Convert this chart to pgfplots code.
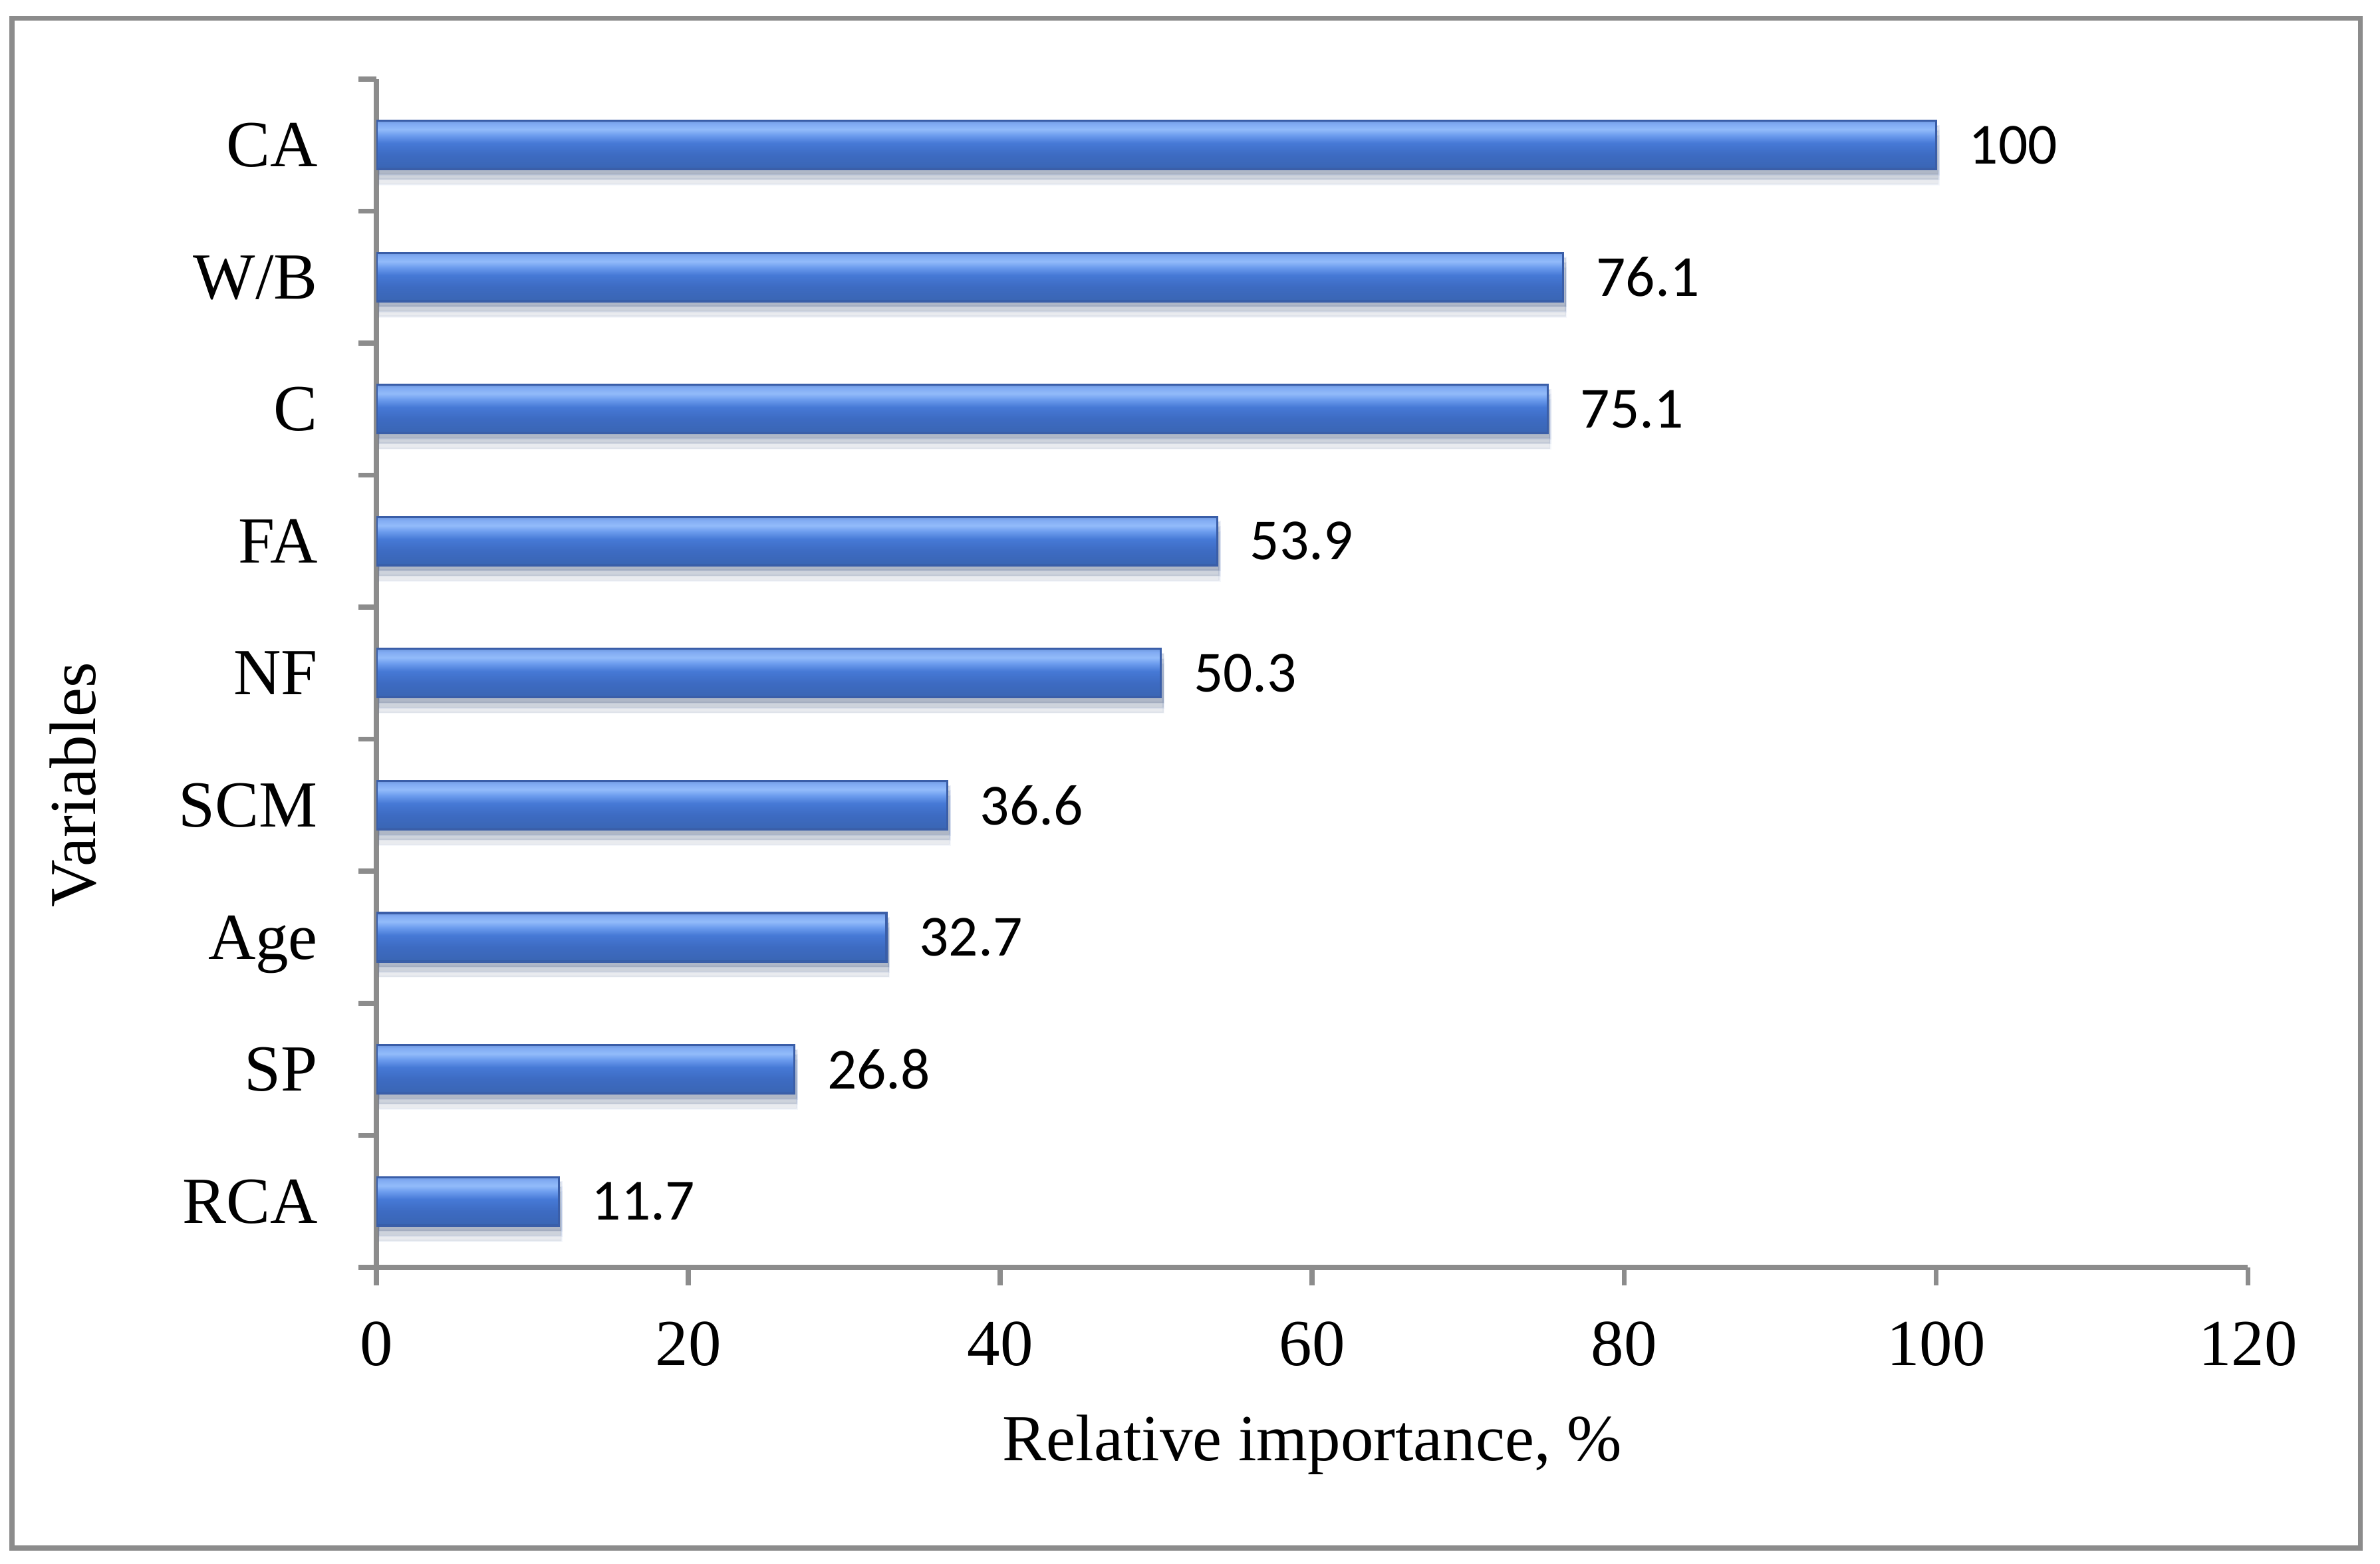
\documentclass[border=0pt]{standalone}
\usepackage{fontspec}
\setmainfont{Liberation Serif}
\newfontfamily\carlito{Carlito}
\usepackage{pgfplots}
\pgfplotsset{compat=1.18}
\usetikzlibrary{shadows}

\definecolor{axisgray}{HTML}{8C8C8C}
\definecolor{barEdge}{HTML}{3A5EA8}
\definecolor{bA}{HTML}{2B4B86}
\definecolor{bB}{HTML}{3A66B5}
\definecolor{bC}{HTML}{3D6BC2}
\definecolor{bD}{HTML}{4679D6}
\definecolor{bE}{HTML}{6C9CEE}
\definecolor{bF}{HTML}{92BBFA}
\definecolor{bG}{HTML}{80AAF2}
\definecolor{bH}{HTML}{6F98DE}
\pgfdeclareverticalshading{barshade}{100bp}{color(0bp)=(bA); color(25bp)=(bA); color(27bp)=(bB); color(40bp)=(bC); color(52bp)=(bD); color(60bp)=(bE); color(66bp)=(bF); color(72bp)=(bG); color(75bp)=(bH); color(100bp)=(bH)}

\pgfplotsset{
  mybar/.style={bar shift=0pt, shading=barshade, draw=barEdge, line width=0.4pt,
    general shadow={shadow xshift=0.5pt, shadow yshift=-3pt, fill=black, opacity=0.05},
    general shadow={shadow xshift=0.5pt, shadow yshift=-2pt, fill=black, opacity=0.07},
    general shadow={shadow xshift=0.5pt, shadow yshift=-1pt, fill=black, opacity=0.09}},
}

\begin{document}
\begin{tikzpicture}
\useasboundingbox (-74.4pt,-58.5pt) rectangle (396pt,250.5pt);
\draw[axisgray, line width=1pt] (-72pt,-55.5pt) rectangle (392.1pt,246.9pt);
\begin{axis}[
  at={(0pt,0pt)}, anchor=south west,
  scale only axis, width=369.9pt, height=234.9pt,
  xbar, bar width=9.6pt,
  xmin=0, xmax=120, ymin=0.5, ymax=9.5,
  axis lines*=left,
  axis line style={draw=axisgray, line width=1pt, -},
  xtick={0,20,...,120},
  ytick={1,...,9},
  yticklabels={RCA,SP,Age,SCM,NF,FA,C,W/B,CA},
  minor ytick={0.5,1.5,...,9.5},
  tick align=outside,
  major tick length=3.6pt, minor tick length=3.6pt,
  major x tick style={draw=axisgray, line width=1pt},
  minor y tick style={draw=axisgray, line width=1pt},
  major y tick style={draw=none},
  ticklabel style={font=\fontsize{13}{15}\selectfont},
  xticklabel style={anchor=north, inner sep=0pt, yshift=-6.9pt},
  yticklabel style={anchor=east, inner sep=0pt, text depth=0pt, xshift=-7.8pt},
  /pgf/number format/assume math mode=true,
  xlabel={Relative importance, \%},
  ylabel={Variables},
  label style={font=\fontsize{13}{15}\selectfont},
  xlabel style={at={(axis description cs:0.5,0)}, anchor=center, yshift=-35pt},
  ylabel style={at={(axis description cs:-0.1622,0.406)}, anchor=center},
  nodes near coords,
  every node near coord/.append style={font=\carlito\fontsize{11.5}{13}\selectfont, black, anchor=west, inner sep=0pt, xshift=6.3pt},
]
\addplot[mybar] coordinates {(11.7,1)};
\addplot[mybar] coordinates {(26.8,2)};
\addplot[mybar] coordinates {(32.7,3)};
\addplot[mybar] coordinates {(36.6,4)};
\addplot[mybar] coordinates {(50.3,5)};
\addplot[mybar] coordinates {(53.9,6)};
\addplot[mybar] coordinates {(75.1,7)};
\addplot[mybar] coordinates {(76.1,8)};
\addplot[mybar] coordinates {(100,9)};
\end{axis}
\end{tikzpicture}
\end{document}
